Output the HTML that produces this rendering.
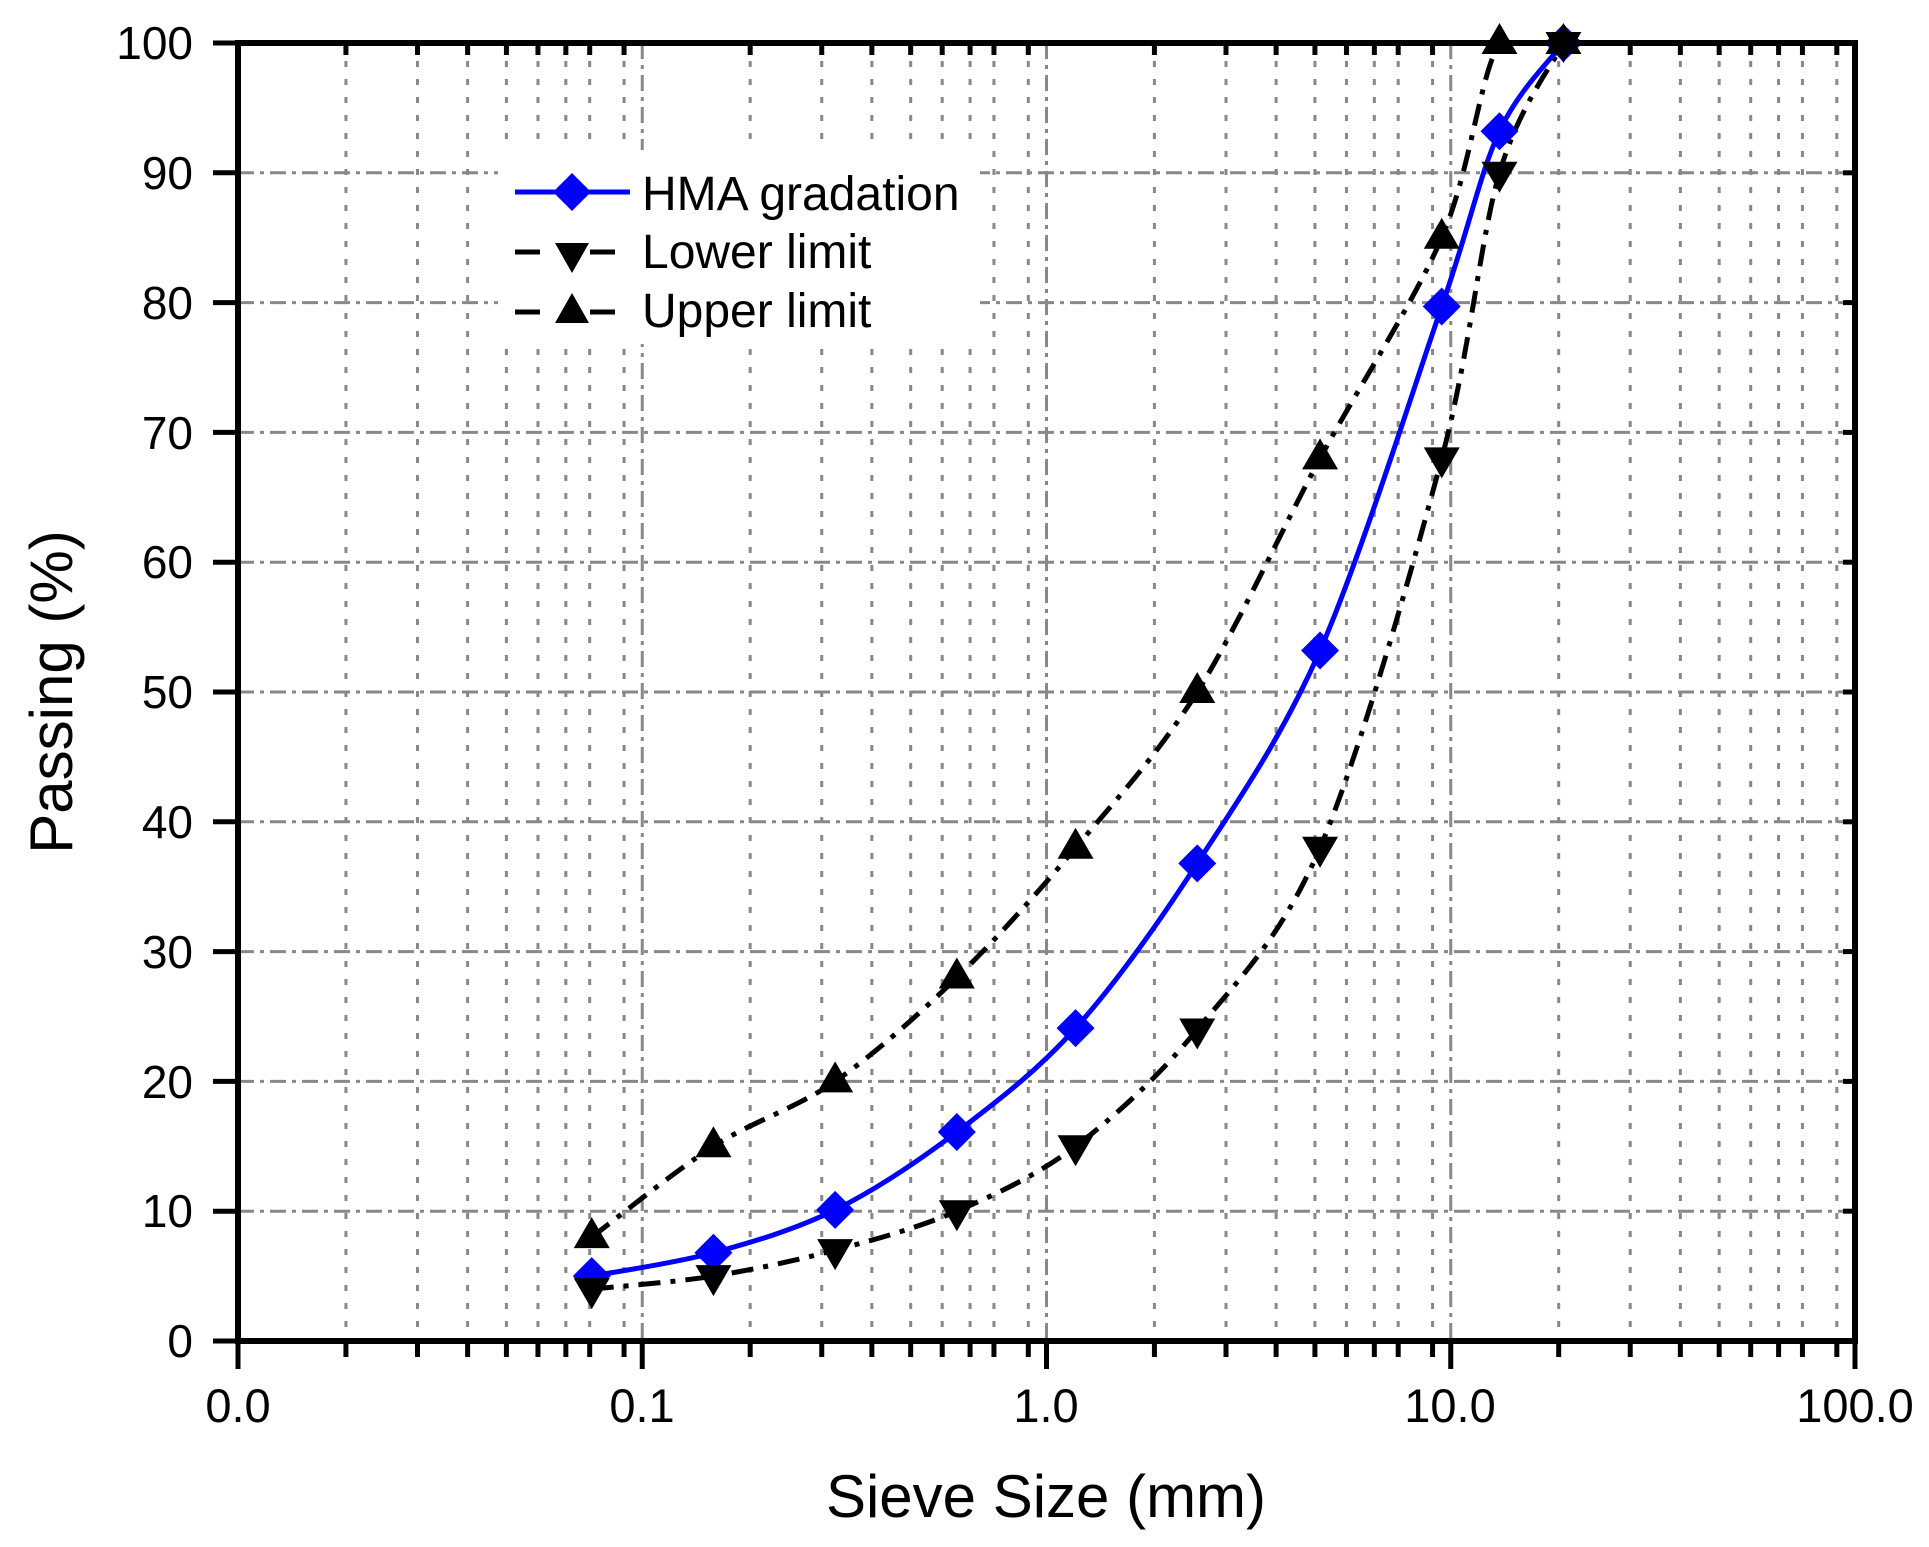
<!DOCTYPE html>
<html><head><meta charset="utf-8"><style>
html,body{margin:0;padding:0;background:#fff;}
svg{display:block;font-family:"Liberation Sans",Arial,sans-serif;}
</style></head><body>
<svg id="s" width="1929" height="1547" viewBox="0 0 1929 1547" xmlns="http://www.w3.org/2000/svg">
<rect width="1929" height="1547" fill="#fff"/>
<g id="grid"></g>
<g id="series"></g>
<rect x="498" y="150" width="482" height="194" fill="#fff"/>
<g id="axes"></g>
<g font-size="46" fill="#000">
<text x="193" y="59" text-anchor="end">100</text>
<text x="193" y="189" text-anchor="end">90</text>
<text x="193" y="319" text-anchor="end">80</text>
<text x="193" y="449" text-anchor="end">70</text>
<text x="193" y="578" text-anchor="end">60</text>
<text x="193" y="708" text-anchor="end">50</text>
<text x="193" y="838" text-anchor="end">40</text>
<text x="193" y="968" text-anchor="end">30</text>
<text x="193" y="1098" text-anchor="end">20</text>
<text x="193" y="1227" text-anchor="end">10</text>
<text x="193" y="1357" text-anchor="end">0</text>
</g>
<g font-size="47" fill="#000">
<text x="238" y="1422" text-anchor="middle">0.0</text>
<text x="642" y="1422" text-anchor="middle">0.1</text>
<text x="1046" y="1422" text-anchor="middle">1.0</text>
<text x="1450" y="1422" text-anchor="middle">10.0</text>
<text x="1855" y="1422" text-anchor="middle">100.0</text>
</g>
<text x="1046" y="1517" font-size="60" text-anchor="middle">Sieve Size (mm)</text>
<text transform="translate(72,692) rotate(-90)" font-size="60" text-anchor="middle">Passing (%)</text>
<g id="legend">
<line x1="515" y1="192" x2="630" y2="192" stroke="#0000ff" stroke-width="5"/>
<polygon points="572,173 591,192 572,211 553,192" fill="#0000ff"/>
<text x="642" y="210" font-size="48">HMA gradation</text>
<line x1="515" y1="252" x2="540" y2="252" stroke="#000" stroke-width="5"/>
<line x1="590" y1="252" x2="615" y2="252" stroke="#000" stroke-width="5"/>
<polygon points="555,243 589,243 572,273" fill="#000"/>
<text x="642" y="268" font-size="48">Lower limit</text>
<line x1="515" y1="312" x2="540" y2="312" stroke="#000" stroke-width="5"/>
<line x1="590" y1="312" x2="615" y2="312" stroke="#000" stroke-width="5"/>
<polygon points="555,323 589,323 572,293" fill="#000"/>
<text x="642" y="327" font-size="48">Upper limit</text>
</g>
</svg>
<script>
(function(){
var NS="http://www.w3.org/2000/svg";
var L=238,R=1855,T=43,B=1341,D=404.25;
function X(v){return L+(Math.log10(v)+2)*D;}
function Y(v){return B-(B-T)*v/100;}
function el(p,tag,a){var e=document.createElementNS(NS,tag);for(var k in a)e.setAttribute(k,a[k]);p.appendChild(e);return e;}
var g=document.getElementById('grid'),ax=document.getElementById('axes'),s=document.getElementById('series');
var fr=[.267,.444,.568,.664,.742,.811,.870,.955];
for(var d=0;d<4;d++){
 var x0=L+d*D;
 if(d>0) el(g,'line',{x1:x0,y1:T,x2:x0,y2:B,stroke:'#888','stroke-width':3,'stroke-dasharray':'16 6 4 6'});
 el(ax,'line',{x1:x0,y1:B,x2:x0,y2:B+28,stroke:'#000','stroke-width':5});
 fr.forEach(function(f){var x=x0+f*D;
  el(g,'line',{x1:x,y1:T,x2:x,y2:B,stroke:'#888','stroke-width':3,'stroke-dasharray':'6 12'});
  el(ax,'line',{x1:x,y1:B,x2:x,y2:B+16,stroke:'#000','stroke-width':5});
  el(ax,'line',{x1:x,y1:T,x2:x,y2:T+12,stroke:'#000','stroke-width':5});
 });
}
el(ax,'line',{x1:R,y1:B,x2:R,y2:B+28,stroke:'#000','stroke-width':5});
for(var i=0;i<=10;i++){var y=Y(i*10);
 if(i>0&&i<10) el(g,'line',{x1:L,y1:y,x2:R,y2:y,stroke:'#888','stroke-width':3,'stroke-dasharray':'16 6 4 6'});
 el(ax,'line',{x1:L-25,y1:y,x2:L,y2:y,stroke:'#000','stroke-width':5});
 el(ax,'line',{x1:R-12,y1:y,x2:R,y2:y,stroke:'#000','stroke-width':5});
}
el(ax,'rect',{x:L,y:T,width:R-L,height:B-T,fill:'none',stroke:'#000','stroke-width':6});
var xs=[0.075,0.15,0.3,0.6,1.18,2.36,4.75,9.5,13.2,19];
var hma=[5,6.8,10.1,16.1,24.1,36.8,53.2,79.7,93.2,100];
var lo=[4,5,7,10,15,24,38,68,90,100];
var up=[8,15,20,28,38,50,68,85,100,100];
function path(ys){var p=xs.map(function(v,i){return [X(v),Y(ys[i])];});
 var d='M'+p[0][0]+','+p[0][1];
 for(var i=0;i<p.length-1;i++){var p0=p[i-1]||p[i],p1=p[i],p2=p[i+1],p3=p[i+2]||p2;
  var t=0.16;
  var c1y=Math.max(T,p1[1]+(p2[1]-p0[1])*t),c2y=Math.max(T,p2[1]-(p3[1]-p1[1])*t);
  if(p1[1]===p2[1]){c1y=p1[1];c2y=p2[1];}
  d+=' C'+(p1[0]+(p2[0]-p0[0])*t)+','+c1y+' '+(p2[0]-(p3[0]-p1[0])*t)+','+c2y+' '+p2[0]+','+p2[1];}
 return d;}
el(s,'path',{d:path(up),fill:'none',stroke:'#000','stroke-width':5,'stroke-dasharray':'22 10 5 10'});
el(s,'path',{d:path(lo),fill:'none',stroke:'#000','stroke-width':5,'stroke-dasharray':'22 10 5 10'});
el(s,'path',{d:path(hma),fill:'none',stroke:'#0000ff','stroke-width':5});
xs.forEach(function(v,i){var x=X(v),y=Y(hma[i]);
 el(s,'polygon',{points:(x)+','+(y-19)+' '+(x+19)+','+y+' '+x+','+(y+19)+' '+(x-19)+','+y,fill:'#0000ff'});});
xs.forEach(function(v,i){var x=X(v),y=Y(lo[i]);
 el(s,'polygon',{points:(x-18)+','+(y-11)+' '+(x+18)+','+(y-11)+' '+x+','+(y+20),fill:'#000'});});
xs.forEach(function(v,i){var x=X(v),y=Y(up[i]);
 el(s,'polygon',{points:(x-18)+','+(y+11)+' '+(x+18)+','+(y+11)+' '+x+','+(y-20),fill:'#000'});});
})();
</script>
</body></html>
